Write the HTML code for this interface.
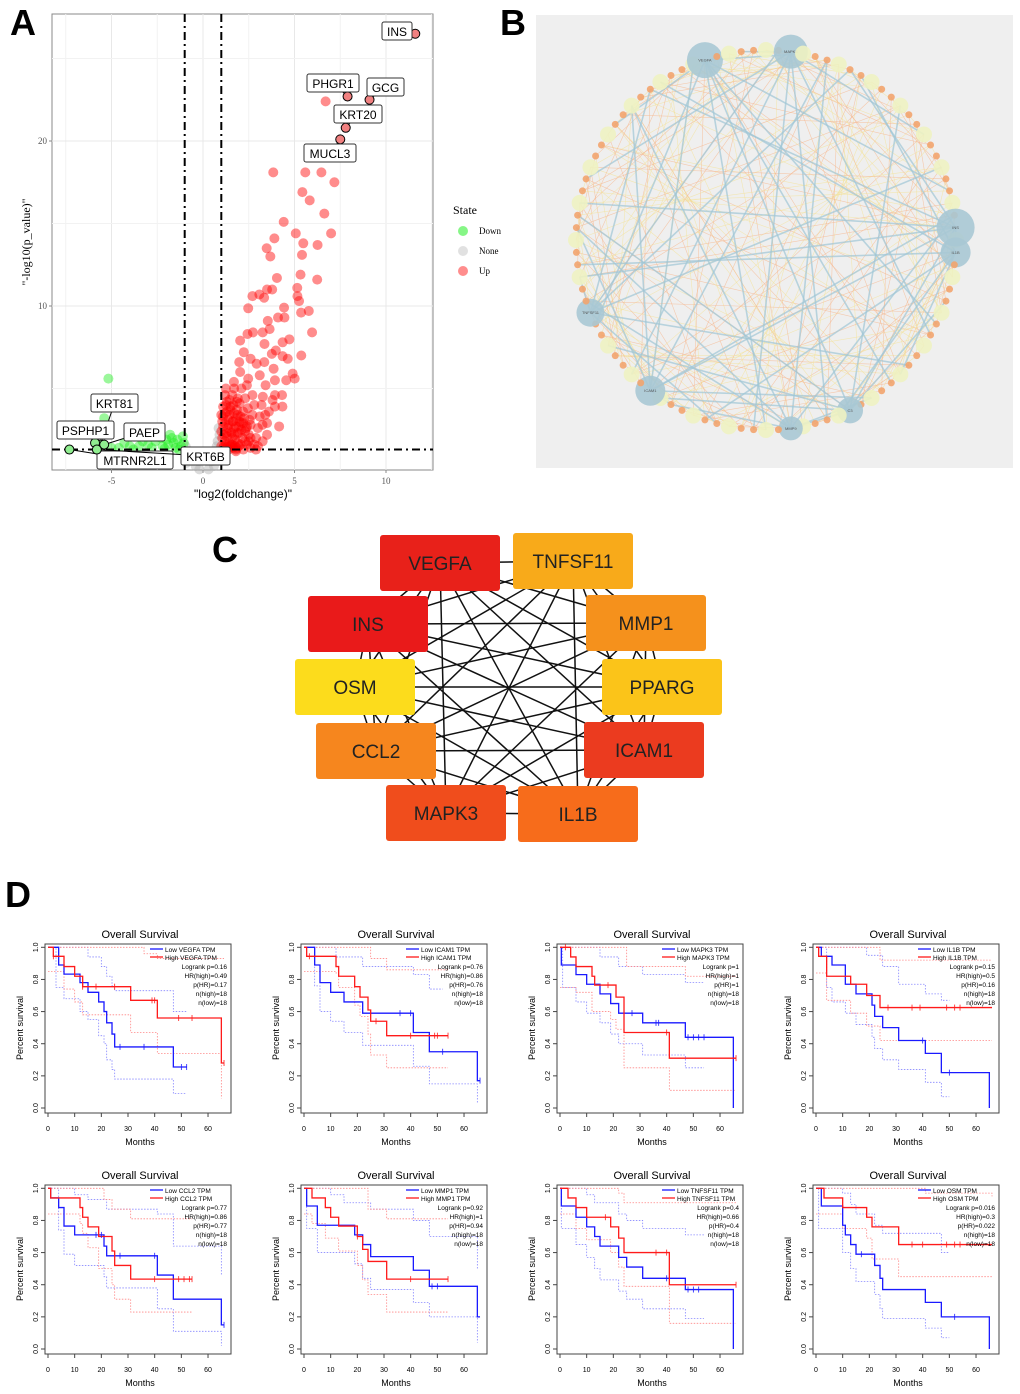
<!DOCTYPE html>
<html><head><meta charset="utf-8"><style>
html,body{margin:0;padding:0;background:#fff}
svg{display:block;font-family:"Liberation Sans",Arial,sans-serif}
</style></head><body>
<svg id="root" width="1020" height="1394" viewBox="0 0 1020 1394" xmlns="http://www.w3.org/2000/svg">
<g id="pA"></g>
<g id="pB"></g>
<g id="pC"></g>
<g id="pD"></g>
<text x="10" y="35" font-size="36" font-weight="bold">A</text>
<text x="500" y="35" font-size="36" font-weight="bold">B</text>
<text x="212" y="562" font-size="36" font-weight="bold">C</text>
<text x="5" y="907" font-size="36" font-weight="bold">D</text>
</svg>
<script>
// ---------- Panel A data ----------
const upX=[3.84,5.59,6.47,7.18,5.43,5.83,6.63,4.41,5.07,7.0,3.9,5.48,6.26,3.48,5.41,3.68,4.04,5.33,6.24,3.5,3.78,5.15,3.08,2.7,3.34,5.16,5.25,4.43,2.47,5.78,5.36,4.10,4.45,3.54,3.64,5.96,2.43,2.73,3.26,2.03,4.72,4.35,3.36,2.23,3.98,3.76,5.37,4.35,4.63,2.6,1.98,2.93,3.35,3.86,4.9,4.55,5.01,3.93,3.42,3.1,2.47,2.03,1.69,3.93,4.32,3.80,4.34,3.27,3.6,3.93,3.25,4.16,3.5,3.26,2.8,6.7,
1.1,1.2,1.3,1.1,1.4,1.2,1.5,1.6,1.7,1.5,1.8,1.9,2.0,2.1,2.2,1.3,1.6,2.0,2.3,2.4,2.5,2.6,2.7,2.8,1.4,1.8,2.2,2.6,1.05,1.05,1.1,1.25,1.7,2.1,2.4,2.9,3.0,3.1,3.2,3.0,1.35,1.55,1.75,1.95,2.15,2.35,2.55,1.45,1.65,1.85,2.05,2.45,1.9,2.7,1.2,1.6,2.3,2.9,3.4,3.5,
1.15,1.25,1.35,1.45,1.55,1.65,1.75,1.85,1.95,2.05,1.15,1.3,1.5,1.7,1.9,2.1,2.3,1.2,1.4,1.6,1.8,2.0,2.2,1.1,1.3,1.5,1.7,1.9,1.25,1.45,1.65,1.85,2.25,2.4,2.5,1.0,1.0,1.0,2.6,1.8];
const upY=[18.1,18.1,18.1,17.5,16.9,16.4,15.6,15.1,14.4,14.4,14.1,13.8,13.7,13.5,13.1,13.0,11.7,11.9,11.6,11.0,11.0,11.1,10.7,10.6,10.5,10.6,10.3,9.9,9.86,9.7,9.6,9.3,9.3,9.1,8.6,8.4,8.3,8.4,8.4,7.9,7.98,7.8,7.7,7.2,7.3,7.1,7.0,6.96,6.8,6.8,6.6,6.5,6.6,6.2,5.9,5.5,5.6,5.5,5.2,5.8,5.6,6.0,5.4,4.6,4.6,4.3,3.9,4.5,3.6,3.9,2.8,2.7,2.9,1.8,1.6,22.4,
1.4,1.8,2.3,2.7,3.1,3.5,1.5,2.0,2.6,3.9,3.2,1.7,2.3,2.9,3.6,4.2,4.6,4.1,4.4,1.6,2.2,2.8,3.4,4.0,1.3,1.3,1.3,1.4,2.0,3.0,3.9,5.0,5.0,5.0,5.2,2.0,2.6,3.3,4.0,1.5,2.6,2.3,1.9,2.7,2.0,2.6,3.1,3.4,3.0,3.7,3.3,3.8,4.4,4.6,4.6,1.6,1.8,1.3,3.4,2.2,
1.5,1.6,1.5,1.7,1.6,1.4,1.5,1.4,1.5,1.6,2.2,2.1,2.4,2.2,2.3,2.5,2.4,2.9,2.8,3.0,2.7,3.0,2.9,3.3,3.6,3.7,3.5,3.4,4.0,4.3,4.0,4.2,3.2,2.7,1.8,1.5,2.4,3.4,2.0,1.2];
const downX=[-5.17,-5.4,-5.0,-4.6,-4.0,-3.5,-3.0,-2.6,-2.3,-2.0,-1.8,-1.6,-1.4,-1.2,-1.1,-1.5,-2.2,-2.8,-3.3,-1.9,-1.3,-2.5,-1.7,-3.8,-4.3,-1.05,-2.1];
const downY=[5.6,3.2,1.4,1.4,1.5,1.5,1.6,1.8,2.0,1.9,2.2,1.7,1.9,1.5,2.1,1.4,1.5,1.4,1.8,1.6,1.3,2.1,2.0,1.3,1.7,1.7,1.35];
const noneX=[-0.9,-0.8,-0.6,-0.4,0.5,0.7,0.8,0.9,0.85,-0.95,0.6,0.3,-0.2,0.75,-0.7];
const noneY=[0.5,1.0,0.8,0.3,0.6,1.2,1.8,2.2,2.6,1.5,0.3,0.1,0.1,1.5,1.2];
const labelGenes=["INS","PHGR1","GCG","KRT20","MUCL3","KRT81","PSPHP1","PAEP","MTRNR2L1","KRT6B"];
const labelX=[11.6,7.9,9.1,7.8,7.5,-5.6,-5.9,-5.4,-7.3,-5.8];
const labelY=[26.5,22.7,22.5,20.8,20.1,1.6,1.7,1.6,1.3,1.3];
const labelBox=[[382,22,30],[307,74,52],[367,78,37],[334,105,48],[304,144,52],[91,394,47],[57,421,57],[124,423,41],[97,451,76],[181,447,49]];
const xTicks=[-5,0,5,10], yTicks=[10,20];

const NS="http://www.w3.org/2000/svg";
function mk(tag,attrs,parent){const e=document.createElementNS(NS,tag);for(const k in attrs)e.setAttribute(k,attrs[k]);if(parent)parent.appendChild(e);return e;}
const vx=v=>203+18.3*v, vy=v=>471-16.5*v;
const A=document.getElementById('pA');
let e=mk('rect',{x:52,y:14,width:381,height:456,fill:'#fff',stroke:'#888','stroke-width':1},A);

[-7.5,-2.5,2.5,7.5,12.5].forEach(v=>mk('line',{x1:vx(v),x2:vx(v),y1:14,y2:470,stroke:'#f2f2f2'},A));
[-5,0,5,10].forEach(v=>mk('line',{x1:vx(v),x2:vx(v),y1:14,y2:470,stroke:'#e8e8e8'},A));
[5,15,25].forEach(v=>mk('line',{x1:52,x2:433,y1:vy(v),y2:vy(v),stroke:'#f2f2f2'},A));
yTicks.forEach(v=>{mk('line',{x1:52,x2:433,y1:vy(v),y2:vy(v),stroke:'#e8e8e8'},A);mk('line',{x1:49,x2:52,y1:vy(v),y2:vy(v),stroke:'#888'},A);
 const t=mk('text',{x:47,y:vy(v)+3,'font-size':9,'text-anchor':'end',fill:'#555','font-family':'Liberation Serif,serif'},A);t.textContent=v;
 });
xTicks.forEach(v=>{mk('line',{x1:vx(v),x2:vx(v),y1:470,y2:473,stroke:'#888'},A);
 const t=mk('text',{x:vx(v),y:484,'font-size':9,'text-anchor':'middle',fill:'#555','font-family':'Liberation Serif,serif'},A);t.textContent=v;
 });
function pts(xs,ys,fill,name){xs.forEach((x,i)=>{const c=mk('circle',{cx:vx(x),cy:vy(ys[i]),r:5,fill:fill,'fill-opacity':0.45},A);
 });}
pts(noneX,noneY,'#b0b0b0','none-point');pts(downX,downY,'#22ee22','down-point');pts(upX,upY,'#ff0000','up-point');
mk('line',{x1:vx(-1),x2:vx(-1),y1:14,y2:470,stroke:'#000','stroke-width':2,'stroke-dasharray':'8,4,2,4'},A);
mk('line',{x1:vx(1),x2:vx(1),y1:14,y2:470,stroke:'#000','stroke-width':2,'stroke-dasharray':'8,4,2,4'},A);
mk('line',{x1:52,x2:433,y1:vy(1.3),y2:vy(1.3),stroke:'#000','stroke-width':2,'stroke-dasharray':'8,4,2,4'},A);
labelGenes.forEach((g,i)=>{const b=labelBox[i];const px=vx(labelX[i]),py=vy(labelY[i]);
 mk('line',{x1:px,y1:py,x2:b[0]+b[2]/2,y2:b[1]+9,stroke:'#000','stroke-width':1},A);
 const c=mk('circle',{cx:px,cy:py,r:4.5,fill:i<5?'#f08080':'#90ee90',stroke:'#000','stroke-width':1},A);
 
 const r=mk('rect',{x:b[0],y:b[1],width:b[2],height:18,rx:2,fill:'#fff',stroke:'#333','stroke-width':1},A);
 
 const t=mk('text',{x:b[0]+b[2]/2,y:b[1]+14,'font-size':12,'text-anchor':'middle'},A);t.textContent=g;
 });
let t=mk('text',{x:243,y:498,'font-size':12,'text-anchor':'middle'},A);t.textContent='"log2(foldchange)"';

t=mk('text',{x:0,y:0,'font-size':12,'text-anchor':'middle',transform:'translate(30,242) rotate(-90)','font-family':'Liberation Serif,serif'},A);t.textContent='"-log10(p_value)"';

t=mk('text',{x:453,y:214,'font-size':12,'font-family':'Liberation Serif,serif'},A);t.textContent='State';

[['Down','#22ee22',231],['None','#c8c8c8',251],['Up','#ff3030',271]].forEach(l=>{
 mk('circle',{cx:463,cy:l[2],r:5,fill:l[1],'fill-opacity':0.55},A);
 const tt=mk('text',{x:479,y:l[2]+3,'font-size':9,'font-family':'Liberation Serif,serif'},A);tt.textContent=l[0];
 });

// ---------- Panel B: network ----------
const B=document.getElementById('pB');
e=mk('rect',{x:536,y:15,width:477,height:453,fill:'#efefef'},B);

const nN=96, cx0=766, cy0=240, R0=190;
const bigNodes={[Math.round((-110+360)%360/360*nN)]:['VEGFA',18],[Math.round((276)/360*nN)]:['MAPK3',17],[Math.round(357/360*nN)%nN]:['INS',19],[Math.round(5/360*nN)]:['IL1B',15],[Math.round(156/360*nN)]:['TNFSF11',14],[Math.round(127/360*nN)]:['ICAM1',15],[Math.round(62/360*nN)]:['C3',13],[Math.round(84/360*nN)]:['MMP9',12]};
const npos=[];
for(let i=0;i<nN;i++){const a=i/nN*2*Math.PI;npos.push([cx0+R0*Math.cos(a),cy0+R0*Math.sin(a)]);}
for(let i=0;i<nN;i++){for(let k=1;k<=2;k++){const j=(i*k*29+7*k)%nN;if(j===i)continue;
 mk('line',{x1:npos[i][0],y1:npos[i][1],x2:npos[j][0],y2:npos[j][1],stroke:k==1?'#f6b88e':'#f3e39a','stroke-width':0.6,'stroke-opacity':0.7},B);}}
const hubs=Object.keys(bigNodes).map(Number);
hubs.forEach((h,hi)=>{for(let k=0;k<7;k++){const j=(h+11+k*17+hi*5)%nN;
 mk('line',{x1:npos[h][0],y1:npos[h][1],x2:npos[j][0],y2:npos[j][1],stroke:'#9fc6d6','stroke-width':1.6,'stroke-opacity':0.7},B);}});
for(let i=0;i<nN;i++){const bn=bigNodes[i];let r,f;
 if(bn){r=bn[1];f='#a8c8d4';}else if(i%3===0){r=8;f='#eef2c2';}else{r=3.5;f='#f2a46e';}
 const c=mk('circle',{cx:npos[i][0],cy:npos[i][1],r:r,fill:f,'fill-opacity':0.9},B);
 
 if(bn){const tt=mk('text',{x:npos[i][0],y:npos[i][1]+1.5,'font-size':4,'text-anchor':'middle',fill:'#555'},B);tt.textContent=bn[0];}}

// ---------- Panel C ----------
const hubGenes=["VEGFA","TNFSF11","MMP1","PPARG","ICAM1","IL1B","MAPK3","CCL2","OSM","INS"];
const hubCX=[440,573,646,662,644,578,446,376,355,368];
const hubCY=[563,561,623,687,750,814,813,751,687,624];
const hubColor=["#e8211a","#f8aa1a","#f5911c","#fbc419","#eb3b1f","#f76c1b","#f04d1c","#f6861e","#fcdc1c","#e91a1a"];
const C=document.getElementById('pC');
for(let i=0;i<hubGenes.length;i++)for(let j=i+1;j<hubGenes.length;j++){
 const l=mk('line',{x1:hubCX[i],y1:hubCY[i],x2:hubCX[j],y2:hubCY[j],stroke:'#111','stroke-width':1.5},C);
 }
hubGenes.forEach((g,i)=>{const r=mk('rect',{x:hubCX[i]-60,y:hubCY[i]-28,width:120,height:56,rx:3,fill:hubColor[i]},C);
 
 const tt=mk('text',{x:hubCX[i],y:hubCY[i]+7,'font-size':19,'text-anchor':'middle',fill:'#222'},C);tt.textContent=g;
 });

// ---------- Panel D: KM ----------
const kmGenes=["VEGFA","ICAM1","MAPK3","IL1B","CCL2","MMP1","TNFSF11","OSM"];
const kmLogrank=["0.16","0.76","1","0.15","0.77","0.92","0.4","0.016"];
const kmHR=["0.49","0.86","1","0.5","0.86","1","0.66","0.3"];
const kmPHR=["0.17","0.76","1","0.16","0.77","0.94","0.4","0.022"];
const kmLow=[
[[0,1],[4,0.89],[6,0.833],[12,0.78],[15,0.72],[19,0.66],[21,0.6],[22,0.53],[24,0.46],[25,0.38],[47,0.255]],
[[0,1],[4,0.89],[6,0.78],[10,0.72],[15,0.66],[22,0.59],[41,0.47],[47,0.35],[65,0.17]],
[[0,1],[0.5,0.89],[6,0.83],[10,0.77],[15,0.71],[19,0.65],[22,0.59],[31,0.53],[47,0.44],[65,0.0]],
[[0,1],[2,0.944],[6,0.89],[11,0.77],[15,0.71],[21,0.64],[22,0.57],[25,0.5],[31,0.42],[41,0.34],[47,0.22],[65,0.0]],
[[0,1],[1,0.94],[4,0.88],[6,0.765],[10,0.71],[21,0.64],[22,0.58],[41,0.46],[47,0.31],[65,0.15]],
[[0,1],[1,0.89],[5,0.77],[19,0.71],[22,0.65],[25,0.575],[41,0.49],[47,0.39],[65,0.2]],
[[0,1],[0.5,0.89],[6,0.82],[10,0.76],[13,0.7],[15,0.64],[22,0.57],[25,0.51],[31,0.44],[47,0.37],[65,0.0]],
[[0,1],[2,0.89],[10,0.77],[11,0.71],[13,0.65],[15,0.59],[22,0.52],[24,0.44],[25,0.37],[41,0.29],[47,0.2],[65,0.0]]];
const kmHigh=[
[[0,1],[2,0.944],[6,0.88],[10,0.82],[13,0.755],[31,0.67],[41,0.56],[65,0.28]],
[[0,1],[1,0.944],[12,0.88],[13,0.82],[19,0.755],[21,0.69],[24,0.61],[25,0.54],[31,0.45]],
[[0,1],[4,0.94],[6,0.88],[12,0.82],[13,0.765],[21,0.69],[24,0.47],[41,0.31]],
[[0,1],[1,0.944],[4,0.82],[13,0.77],[19,0.7],[24,0.625]],
[[0,1],[1,0.94],[12,0.88],[13,0.82],[15,0.76],[19,0.7],[24,0.61],[25,0.52],[31,0.435]],
[[0,1],[3,0.94],[8,0.88],[10,0.82],[13,0.765],[20,0.7],[22,0.62],[24,0.545],[31,0.435]],
[[0,1],[3,0.94],[6,0.88],[10,0.82],[19,0.76],[22,0.69],[24,0.6],[41,0.4]],
[[0,1],[3,0.94],[10,0.88],[19,0.82],[21,0.76],[31,0.65]]];
const kmLowEnd=[52,66,65,65,66,66,65,65];
const kmHighEnd=[66,54,66,66,54,54,66,66];
const kmLowCens=[[27,36,50,52],[36,40,52,66],[27,36,37,48,50,52,54],[40,50],[18,20,27,40,66],[48,50],[40,48,50,52],[17,52]];
const kmHighCens=[[2,13,18,25,39,40,49,54,66],[2,27,40,49,50,54],[2,18,40,66],[27,36,39,49,52,54],[40,49,51,53,54],[20,40,54],[17,36,40,66],[36,40,49,52,54]];
const kmLowUp=[
[[0,1],[15,0.94],[20,0.88],[22,0.82],[24,0.76],[25,0.73],[47,0.6],[52,0.6]],
[[0,1],[12,0.94],[22,0.88],[41,0.83],[47,0.74],[52,0.74]],
[[0,1],[10,1],[15,0.94],[22,0.88],[31,0.83],[47,0.78],[54,0.78]],
[[0,1],[15,1],[19,0.95],[25,0.88],[31,0.77],[41,0.71],[47,0.67],[50,0.67]],
[[0,1],[10,0.96],[15,0.93],[22,0.87],[41,0.84],[47,0.64],[65,0.46]],
[[0,1],[6,1],[10,0.96],[15,0.91],[25,0.87],[41,0.8],[47,0.7],[65,0.5]],
[[0,1],[6,1],[10,0.96],[13,0.91],[22,0.84],[25,0.8],[31,0.75],[47,0.71],[54,0.71]],
[[0,1],[10,0.97],[13,0.9],[15,0.84],[22,0.77],[25,0.72],[41,0.72],[47,0.6],[50,0.6]]];
const kmLowLo=[
[[0,1],[3,0.75],[6,0.68],[12,0.6],[15,0.55],[19,0.45],[21,0.4],[22,0.3],[24,0.24],[25,0.18],[47,0.09],[52,0.09]],
[[0,1],[4,0.76],[6,0.6],[10,0.54],[15,0.47],[22,0.39],[41,0.26],[47,0.15],[65,0.03]],
[[0,1],[1,0.75],[6,0.66],[10,0.59],[15,0.53],[19,0.46],[22,0.4],[31,0.33],[47,0.25],[54,0.25]],
[[0,1],[4,0.75],[6,0.66],[11,0.59],[15,0.52],[21,0.44],[22,0.37],[25,0.3],[31,0.24],[41,0.16],[47,0.07],[50,0.07]],
[[0,1],[4,0.74],[6,0.59],[10,0.52],[21,0.45],[22,0.38],[41,0.25],[47,0.11],[65,0.02]],
[[0,1],[1,0.75],[5,0.6],[19,0.53],[22,0.44],[25,0.37],[41,0.29],[47,0.2],[65,0.04]],
[[0,1],[0.5,0.75],[6,0.65],[10,0.57],[13,0.5],[15,0.43],[22,0.36],[25,0.31],[31,0.25],[47,0.19],[54,0.19]],
[[0,1],[1,0.75],[10,0.6],[13,0.5],[15,0.42],[22,0.34],[24,0.25],[25,0.19],[41,0.13],[47,0.07],[50,0.07]]];
const kmHighUp=[
[[0,1],[31,1],[36,0.96],[41,0.93],[66,0.93]],
[[0,1],[21,1],[25,0.93],[31,0.86],[54,0.86]],
[[0,1],[24,1],[25,0.88],[47,0.82],[66,0.82]],
[[0,1],[19,1],[24,0.92],[66,0.92]],
[[0,1],[19,1],[21,0.93],[24,0.87],[31,0.81],[54,0.81]],
[[0,1],[22,1],[24,0.87],[31,0.81],[54,0.81]],
[[0,1],[19,1],[22,0.97],[24,0.91],[66,0.91]],
[[0,1],[31,1],[41,0.97],[66,0.95]]];
const kmHighLo=[
[[0,0.85],[6,0.74],[10,0.66],[13,0.58],[31,0.47],[41,0.34],[65,0.06]],
[[0,0.85],[12,0.84],[13,0.75],[19,0.64],[21,0.57],[24,0.46],[25,0.33],[31,0.25],[54,0.25]],
[[0,0.75],[6,0.72],[12,0.6],[19,0.55],[21,0.49],[24,0.25],[41,0.11],[66,0.11]],
[[0,0.84],[4,0.67],[13,0.59],[19,0.51],[24,0.42],[66,0.42]],
[[0,0.84],[12,0.78],[13,0.72],[15,0.63],[19,0.5],[24,0.4],[25,0.31],[31,0.23],[54,0.23]],
[[0,0.84],[3,0.78],[8,0.69],[13,0.61],[20,0.52],[22,0.43],[24,0.34],[31,0.23],[54,0.23]],
[[0,0.84],[6,0.75],[10,0.68],[19,0.6],[22,0.51],[24,0.39],[41,0.16],[66,0.16]],
[[0,0.84],[10,0.75],[19,0.69],[21,0.56],[31,0.45],[66,0.45]]];
const kmXTicks=[0,10,20,30,40,50,60], kmYTicks=[0,0.2,0.4,0.6,0.8,1.0];

const D=document.getElementById('pD');
function stepPath(steps,end,X,Y){let d='M'+X(steps[0][0])+','+Y(steps[0][1]);
 for(let i=1;i<steps.length;i++)d+='H'+X(steps[i][0])+'V'+Y(steps[i][1]);
 d+='H'+X(end);return d;}
function valAt(steps,t){let v=steps[0][1];for(const s of steps)if(s[0]<=t)v=s[1];return v;}
kmGenes.forEach((g,p)=>{
 const ox=(p%4)*256, oy=Math.floor(p/4)*241;
 const G=mk('g',{transform:`translate(${ox},${oy})`},D);
 
 const X=t=>48+t*2.667, Y=s=>1108-s*160.7;
 mk('rect',{x:45,y:944,width:186,height:169,fill:'none',stroke:'#444','stroke-width':1},G);
 let tt=mk('text',{x:140,y:938,'font-size':11,'text-anchor':'middle'},G);tt.textContent='Overall Survival';
 
 kmXTicks.forEach(v=>{mk('line',{x1:X(v),x2:X(v),y1:1113,y2:1117,stroke:'#444'},G);
  const a=mk('text',{x:X(v),y:1131,'font-size':7,'text-anchor':'middle'},G);a.textContent=v;
  });
 kmYTicks.forEach(v=>{mk('line',{x1:41,x2:45,y1:Y(v),y2:Y(v),stroke:'#444'},G);
  const a=mk('text',{x:0,y:0,'font-size':7,'text-anchor':'middle',transform:`translate(38,${Y(v)}) rotate(-90)`},G);a.textContent=v.toFixed(1);
  });
 tt=mk('text',{x:140,y:1145,'font-size':9,'text-anchor':'middle'},G);tt.textContent='Months';
 
 tt=mk('text',{x:0,y:0,'font-size':9,'text-anchor':'middle',transform:'translate(23,1028) rotate(-90)'},G);tt.textContent='Percent survival';
 
 const ci=[[kmLowUp[p],'#8888ff'],[kmLowLo[p],'#8888ff'],[kmHighUp[p],'#ff8888'],[kmHighLo[p],'#ff8888']];
 ci.forEach(c=>{const s=c[0];const pa=mk('path',{d:stepPath(s,s[s.length-1][0],X,Y),fill:'none',stroke:c[1],'stroke-width':0.8,'stroke-dasharray':'1.5,1.5'},G);
  });
 let pa=mk('path',{d:stepPath(kmLow[p],kmLowEnd[p],X,Y),fill:'none',stroke:'#1a1aff','stroke-width':1.3},G);
 
 pa=mk('path',{d:stepPath(kmHigh[p],kmHighEnd[p],X,Y),fill:'none',stroke:'#ff1a1a','stroke-width':1.3},G);
 
 kmLowCens[p].forEach(t=>{const y=Y(valAt(kmLow[p],t));mk('line',{x1:X(t),x2:X(t),y1:y-3,y2:y+3,stroke:'#1a1aff','stroke-width':0.8},G);});
 kmHighCens[p].forEach(t=>{const y=Y(valAt(kmHigh[p],t));mk('line',{x1:X(t),x2:X(t),y1:y-3,y2:y+3,stroke:'#ff1a1a','stroke-width':0.8},G);});
 mk('line',{x1:150,x2:163,y1:949,y2:949,stroke:'#1a1aff','stroke-width':1.3},G);
 mk('line',{x1:150,x2:163,y1:957,y2:957,stroke:'#ff1a1a','stroke-width':1.3},G);
 tt=mk('text',{x:165,y:952,'font-size':6.5},G);tt.textContent='Low '+g+' TPM';
 
 tt=mk('text',{x:165,y:960,'font-size':6.5},G);tt.textContent='High '+g+' TPM';
 
 ['Logrank p='+kmLogrank[p],'HR(high)='+kmHR[p],'p(HR)='+kmPHR[p],'n(high)=18','n(low)=18'].forEach((s,i)=>{
  const a=mk('text',{x:227,y:969+i*9,'font-size':6.5,'text-anchor':'end'},G);a.textContent=s;
  });
});
</script>
</body></html>
